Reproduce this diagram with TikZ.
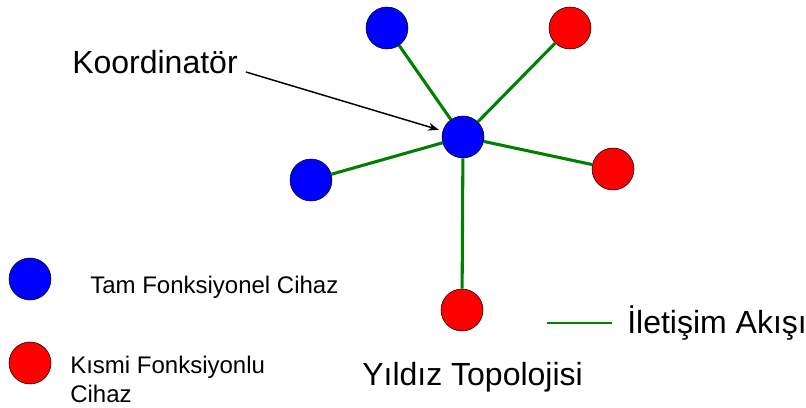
\documentclass[tikz,border=0pt]{standalone}
\usepackage{fontspec}
\setmainfont{Liberation Sans}
\usepackage{tikz}
\usetikzlibrary{arrows.meta,positioning}

\tikzset{
	ffd/.style={circle,draw=black,line width=0.4pt,fill=blue,minimum size=31.5pt,inner sep=0pt},
	rfd/.style={circle,draw=black,line width=0.4pt,fill=red,minimum size=31.5pt,inner sep=0pt},
	link/.style={draw=green!50!black,line width=2.3pt},
	lbl/.style={inner sep=0pt,anchor=base west,font=\fontsize{24}{28}\selectfont},
	small/.style={inner sep=0pt,anchor=base west,font=\fontsize{18}{21.75}\selectfont,align=left}
}

\begin{document}
\begin{tikzpicture}[x=0.75pt,y=-0.75pt]
	\useasboundingbox (0,0) rectangle (806,407);
	\begin{scope}
		\node[ffd] (c) at (463,137) {};
		\node[ffd] (n1) at (387,28) {};
		\node[ffd] (n2) at (311,180) {};
		\node[rfd] (n3) at (570,28) {};
		\node[rfd] (n4) at (613,169) {};
		\node[rfd] (n5) at (462,310) {};
		
		\node[lbl] (koord) at (72,73) {Koordinatör};
		\node[lbl] (title) at (362,385) {Yıldız Topolojisi};
		
		% legend
		\node[ffd] (leg1) at (30,279) {};
		\node[small] (leg1t) at (90,293) {Tam Fonksiyonel Cihaz};
		\node[rfd] (leg2) at (30,363) {};
		\node[small] (leg2t) at (70,402) {Kısmi Fonksiyonlu\\Cihaz};
		\coordinate (flow1) at (547,323);
		\coordinate (flow2) at (612,323);
		\node[lbl] (flow) at (627,333) {İletişim Akışı};
	\end{scope}
	\begin{scope}[every edge/.style={link}]
		\draw (c) edge (n1) edge (n2) edge (n3) edge (n4) edge (n5);
	\end{scope}
	\draw[green!50!black,line width=1pt] (flow1) -- (flow2);
	\draw[-{Stealth[length=8pt,width=6pt]},line width=1.1pt,shorten >=3pt] ([xshift=6pt,yshift=0.75pt]koord.base east) -- (c);
\end{tikzpicture}
\end{document}
